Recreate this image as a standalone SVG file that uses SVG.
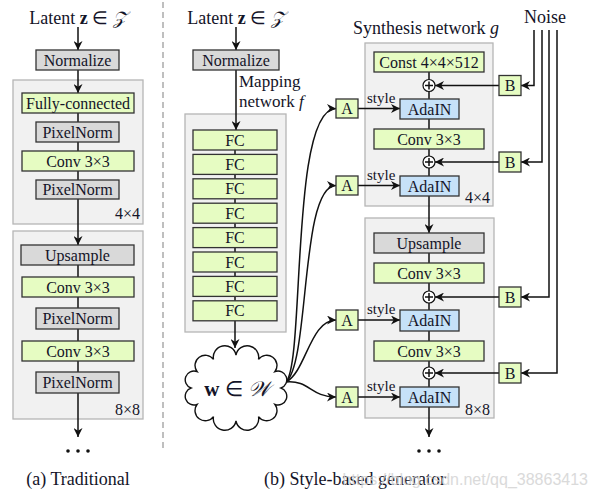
<svg xmlns="http://www.w3.org/2000/svg" width="598" height="498" viewBox="0 0 598 498">
<defs>
<marker id="ah" viewBox="0 0 10 10" refX="10" refY="5" markerWidth="9" markerHeight="9" markerUnits="userSpaceOnUse" orient="auto">
<path d="M0,0 L10,5 L0,10 L3,5 Z" fill="#111"/>
</marker>
</defs>
<style>
text{font-family:"Liberation Serif","Times New Roman",serif;fill:#141428}
.lbl{font-size:16px;text-anchor:middle}
.hd{font-size:18px}
.cap{font-size:18px;text-anchor:middle}
.sz{font-size:16px;text-anchor:end}
.sty{font-size:15px}
.cont{fill:#f1f1f1;stroke:#b5b5b5;stroke-width:1.3}
.g{fill:#e6fcc2;stroke:#333;stroke-width:1.3}
.gr{fill:#d9d9d9;stroke:#333;stroke-width:1.3}
.bl{fill:#c6e1f8;stroke:#333;stroke-width:1.3}
.ln{fill:none;stroke:#111;stroke-width:1.5}
.ar{fill:none;stroke:#111;stroke-width:1.5;marker-end:url(#ah)}
.pl{fill:#fff;stroke:#111;stroke-width:1.2}
.dot{fill:#111}
</style>
<rect width="598" height="498" fill="#fff"/>

<!-- containers -->
<g id="containers">
<rect id="trad4" class="cont" x="13" y="80" width="130" height="144"/>
<rect id="trad8" class="cont" x="13" y="231" width="130" height="188"/>
<rect id="mapping" class="cont" x="185" y="114" width="101" height="218"/>
<rect id="syn4" class="cont" x="365" y="43" width="128" height="163"/>
<rect id="syn8" class="cont" x="365" y="218" width="129" height="200"/>
</g>

<line x1="163" y1="2" x2="163" y2="452" stroke="#aaa" stroke-width="1.5" stroke-dasharray="6,4"/>

<g id="connectors">
<!-- traditional -->
<path class="ar" d="M78,27 V50"/>
<path class="ar" d="M78,70 V93"/>
<path class="ln" d="M78,113 V122 M78,142 V151 M78,171 V180"/>
<path class="ar" d="M78,199 V245"/>
<path class="ln" d="M78,265 V277 M78,297 V308 M78,329 V341 M78,361 V372"/>
<path class="ar" d="M78,393 V437"/>
<!-- mapping -->
<path class="ar" d="M236,27 V50"/>
<path class="ar" d="M236,70 V130"/>
<path class="ln" d="M235,150 V154.4 M235,174.4 V178.8 M235,198.8 V203.2 M235,223.2 V227.6 M235,247.6 V252 M235,272 V276.4 M235,296.4 V300.8"/>
<path class="ar" d="M235,321 V348"/>
<!-- cloud to A -->
<path class="ar" d="M286,382 C305,362 290,108.5 336,108.5"/>
<path class="ar" d="M286,382 C310,362 300,185.5 336,185.5"/>
<path class="ar" d="M286,382 C306,372 310,320 336,320"/>
<path class="ar" d="M286,382 C310,380 310,397 336,397"/>
<!-- A to AdaIN -->
<path class="ar" d="M358,108.5 H400"/>
<path class="ar" d="M358,185.5 H400"/>
<path class="ar" d="M358,320 H400"/>
<path class="ar" d="M358,397 H400"/>
<!-- synthesis spine -->
<path class="ln" d="M429,72 V79.5 M429,91.5 V99 M429,119 V129 M429,149 V156 M429,168 V176"/>
<path class="ar" d="M429,196 V233"/>
<path class="ln" d="M429,253 V263 M429,283 V291 M429,303 V310 M429,331 V341 M429,361 V367 M429,379 V387"/>
<path class="ar" d="M429,407 V437"/>
<!-- B to plus -->
<path class="ar" d="M499,85.5 H435"/>
<path class="ar" d="M499,162 H435"/>
<path class="ar" d="M499,297 H435"/>
<path class="ar" d="M499,373 H435"/>
<!-- noise to B -->
<path class="ar" d="M534,30 V85.5 H521"/>
<path class="ar" d="M542,30 V162 H521"/>
<path class="ar" d="M549,30 V297 H521"/>
<path class="ar" d="M557,30 V373 H521"/>
</g>

<!-- traditional -->
<text class="hd" x="78" y="24" text-anchor="middle">Latent <tspan font-weight="bold">z</tspan> ∈ <tspan font-style="italic">𝒵</tspan></text>
<g id="t_norm"><rect class="gr" x="36" y="50" width="83" height="20"/><text class="lbl" x="77.5" y="65.5">Normalize</text></g>
<g id="t_fc"><rect class="g" x="22" y="93" width="112" height="20"/><text class="lbl" x="78" y="108.5">Fully-connected</text></g>
<g id="t_pn1"><rect class="gr" x="36" y="122" width="83" height="20"/><text class="lbl" x="77.5" y="137.5">PixelNorm</text></g>
<g id="t_conv1"><rect class="g" x="22" y="151" width="112" height="20"/><text class="lbl" x="78" y="166.5">Conv 3×3</text></g>
<g id="t_pn2"><rect class="gr" x="36" y="180" width="83" height="19"/><text class="lbl" x="77.5" y="195">PixelNorm</text></g>
<text class="sz" x="140" y="219">4×4</text>
<g id="t_up"><rect class="gr" x="21" y="245" width="113" height="20"/><text class="lbl" x="77.5" y="260.5">Upsample</text></g>
<g id="t_conv2"><rect class="g" x="22" y="277" width="112" height="20"/><text class="lbl" x="78" y="292.5">Conv 3×3</text></g>
<g id="t_pn3"><rect class="gr" x="36" y="308" width="83" height="21"/><text class="lbl" x="77.5" y="324">PixelNorm</text></g>
<g id="t_conv3"><rect class="g" x="22" y="341" width="112" height="20"/><text class="lbl" x="78" y="356.5">Conv 3×3</text></g>
<g id="t_pn4"><rect class="gr" x="36" y="372" width="83" height="21"/><text class="lbl" x="77.5" y="388">PixelNorm</text></g>
<text class="sz" x="140" y="415">8×8</text>
<g id="t_dots"><circle class="dot" cx="68" cy="451" r="1.8"/><circle class="dot" cx="78" cy="451" r="1.8"/><circle class="dot" cx="88" cy="451" r="1.8"/></g>
<text class="cap" x="78" y="485">(a) Traditional</text>

<!-- mapping -->
<text class="hd" x="236" y="24" text-anchor="middle">Latent <tspan font-weight="bold">z</tspan> ∈ <tspan font-style="italic">𝒵</tspan></text>
<g id="m_norm"><rect class="gr" x="193" y="50" width="86" height="20"/><text class="lbl" x="236" y="65.5">Normalize</text></g>
<text x="239" y="87" font-size="17">Mapping</text>
<text x="239" y="107" font-size="17">network <tspan font-style="italic">f</tspan></text>
<g id="fc1"><rect class="g" x="193" y="130" width="84" height="20"/><text class="lbl" x="235" y="145.5">FC</text></g>
<g id="fc2"><rect class="g" x="193" y="154.4" width="84" height="20"/><text class="lbl" x="235" y="169.9">FC</text></g>
<g id="fc3"><rect class="g" x="193" y="178.8" width="84" height="20"/><text class="lbl" x="235" y="194.3">FC</text></g>
<g id="fc4"><rect class="g" x="193" y="203.2" width="84" height="20"/><text class="lbl" x="235" y="218.7">FC</text></g>
<g id="fc5"><rect class="g" x="193" y="227.6" width="84" height="20"/><text class="lbl" x="235" y="243.1">FC</text></g>
<g id="fc6"><rect class="g" x="193" y="252" width="84" height="20"/><text class="lbl" x="235" y="267.5">FC</text></g>
<g id="fc7"><rect class="g" x="193" y="276.4" width="84" height="20"/><text class="lbl" x="235" y="291.9">FC</text></g>
<g id="fc8"><rect class="g" x="193" y="300.8" width="84" height="20"/><text class="lbl" x="235" y="316.3">FC</text></g>
<g id="w_cloud">
<path fill="#fff" stroke="#111" stroke-width="1.4" d="M281,388 A1,1 0 0 1 275,404.5 A1,1 0 0 1 258.5,416.6 A1,1 0 0 1 236,421 A1,1 0 0 1 213.5,416.6 A1,1 0 0 1 197,404.5 A1,1 0 0 1 191,388 A1,1 0 0 1 197,371.5 A1,1 0 0 1 213.5,359.4 A1,1 0 0 1 236,355 A1,1 0 0 1 258.5,359.4 A1,1 0 0 1 275,371.5 A1,1 0 0 1 281,388 Z"/>
<text x="237" y="396" font-size="21" text-anchor="middle"><tspan font-weight="bold">w</tspan> ∈ <tspan font-style="italic">𝒲</tspan></text>
</g>
<text class="cap" x="355" y="485">(b) Style-based generator</text>

<!-- synthesis -->
<text class="hd" x="353" y="34">Synthesis network <tspan font-style="italic">g</tspan></text>
<text class="hd" x="545" y="23" text-anchor="middle">Noise</text>
<g id="const"><rect class="g" x="374" y="52" width="110" height="20"/><text class="lbl" x="429" y="67.5" font-size="15">Const 4×4×512</text></g>
<g id="plus1"><circle class="pl" cx="429" cy="85.5" r="6"/><path class="ln" stroke-width="1.1" d="M425,85.5 H433 M429,81.5 V89.5"/></g>
<g id="ada1"><rect class="bl" x="400" y="99" width="59" height="20"/><text class="lbl" x="429.5" y="114.5">AdaIN</text></g>
<g id="s_conv1"><rect class="g" x="374" y="129" width="110" height="20"/><text class="lbl" x="429" y="144.5">Conv 3×3</text></g>
<g id="plus2"><circle class="pl" cx="429" cy="162" r="6"/><path class="ln" stroke-width="1.1" d="M425,162 H433 M429,158 V166"/></g>
<g id="ada2"><rect class="bl" x="400" y="176" width="59" height="20"/><text class="lbl" x="429.5" y="191.5">AdaIN</text></g>
<text class="sz" x="490" y="203">4×4</text>
<g id="s_up"><rect class="gr" x="374" y="233" width="110" height="20"/><text class="lbl" x="429" y="248.5">Upsample</text></g>
<g id="s_conv2"><rect class="g" x="374" y="263" width="110" height="20"/><text class="lbl" x="429" y="278.5">Conv 3×3</text></g>
<g id="plus3"><circle class="pl" cx="429" cy="297" r="6"/><path class="ln" stroke-width="1.1" d="M425,297 H433 M429,293 V301"/></g>
<g id="ada3"><rect class="bl" x="400" y="310" width="59" height="21"/><text class="lbl" x="429.5" y="326">AdaIN</text></g>
<g id="s_conv3"><rect class="g" x="374" y="341" width="110" height="20"/><text class="lbl" x="429" y="356.5">Conv 3×3</text></g>
<g id="plus4"><circle class="pl" cx="429" cy="373" r="6"/><path class="ln" stroke-width="1.1" d="M425,373 H433 M429,369 V377"/></g>
<g id="ada4"><rect class="bl" x="400" y="387" width="59" height="20"/><text class="lbl" x="429.5" y="402.5">AdaIN</text></g>
<text class="sz" x="490" y="415">8×8</text>
<g id="s_dots"><circle class="dot" cx="419" cy="451" r="1.8"/><circle class="dot" cx="429" cy="451" r="1.8"/><circle class="dot" cx="439" cy="451" r="1.8"/></g>

<!-- A boxes -->
<g id="A1"><rect class="g" x="336" y="99" width="22" height="19"/><text class="lbl" x="347" y="114">A</text></g>
<g id="A2"><rect class="g" x="336" y="176" width="22" height="19"/><text class="lbl" x="347" y="191">A</text></g>
<g id="A3"><rect class="g" x="336" y="310" width="22" height="20"/><text class="lbl" x="347" y="325.5">A</text></g>
<g id="A4"><rect class="g" x="336" y="387" width="22" height="20"/><text class="lbl" x="347" y="402.5">A</text></g>
<text class="sty" x="367" y="103">style</text>
<text class="sty" x="367" y="180">style</text>
<text class="sty" x="367" y="314">style</text>
<text class="sty" x="367" y="391">style</text>

<!-- B boxes -->
<g id="B1"><rect class="g" x="499" y="75.5" width="22" height="20"/><text class="lbl" x="510" y="91">B</text></g>
<g id="B2"><rect class="g" x="499" y="152" width="22" height="20"/><text class="lbl" x="510" y="167.5">B</text></g>
<g id="B3"><rect class="g" x="499" y="287" width="22" height="20"/><text class="lbl" x="510" y="302.5">B</text></g>
<g id="B4"><rect class="g" x="499" y="363" width="22" height="20"/><text class="lbl" x="510" y="378.5">B</text></g>

<text x="588" y="485" font-size="16" text-anchor="end" style="font-family:'Liberation Sans',Arial,sans-serif;fill:#d4d4d4;opacity:0.85">https://blog.csdn.net/qq_38863413</text>
</svg>
